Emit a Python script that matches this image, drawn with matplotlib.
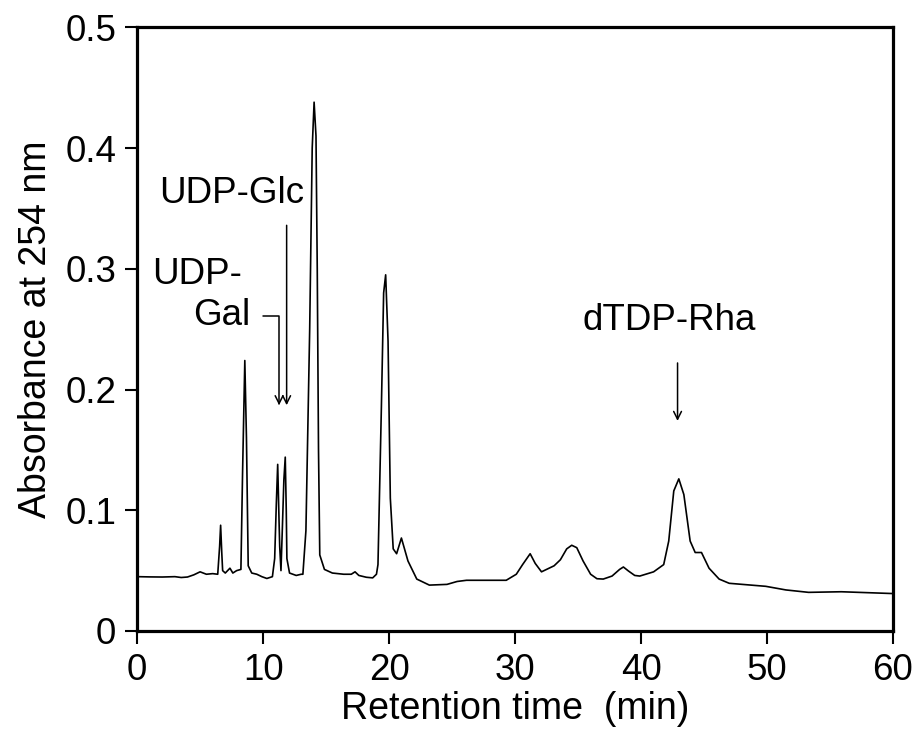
import matplotlib
matplotlib.use("Agg")
import matplotlib.pyplot as plt

plt.rcParams['font.family'] = ['Liberation Sans', 'DejaVu Sans']

# Cromatograma (tiempo en min, absorbancia)
tiempo = [0, 1, 2, 3, 3.5, 4, 4.5, 5.0, 5.5, 6.0, 6.4, 6.55, 6.63, 6.72, 6.79,
          7.0, 7.37, 7.6, 7.9, 8.24, 8.37, 8.55, 8.68, 8.82, 9.1, 9.5, 9.9,
          10.3, 10.74, 10.92, 11.05, 11.16, 11.27, 11.32, 11.42, 11.53, 11.65,
          11.76, 11.84, 11.89, 12.1, 12.63, 13.03, 13.16, 13.4, 13.7, 13.9,
          14.05, 14.2, 14.3, 14.4, 14.5, 14.87, 15.5, 16.4, 17.0, 17.3, 17.6,
          18.2, 18.7, 19.0, 19.12, 19.39, 19.57, 19.73, 19.92, 20.1, 20.33,
          20.6, 20.98, 21.5, 22.2, 23.2, 24.6, 25.4, 26.15, 29.3, 30.1, 30.6,
          31.2, 31.6, 32.1, 33.1, 33.6, 34.1, 34.5, 34.9, 35.4, 36.0, 36.5,
          37.0, 37.7, 38.3, 38.6, 39.0, 39.5, 39.9, 41.0, 41.8, 42.2, 42.6,
          43.0, 43.4, 43.9, 44.3, 44.8, 45.4, 46.2, 47.0, 49.9, 51.5, 53.3,
          55.9, 60.0]
absorbancia = [0.045, 0.0448, 0.0447, 0.045, 0.0443, 0.0447, 0.0465, 0.049,
               0.047, 0.0475, 0.047, 0.07, 0.0876, 0.065, 0.050, 0.048, 0.052,
               0.048, 0.050, 0.051, 0.130, 0.224, 0.160, 0.054, 0.048, 0.047,
               0.045, 0.0435, 0.045, 0.060, 0.105, 0.138, 0.090, 0.070, 0.050,
               0.085, 0.125, 0.144, 0.100, 0.060, 0.048, 0.046, 0.047, 0.047,
               0.083, 0.25, 0.40, 0.438, 0.41, 0.30, 0.15, 0.063, 0.051, 0.048,
               0.047, 0.047, 0.049, 0.046, 0.0445, 0.044, 0.047, 0.055, 0.185,
               0.28, 0.295, 0.240, 0.110, 0.068, 0.064, 0.077, 0.058, 0.043,
               0.038, 0.0386, 0.041, 0.042, 0.042, 0.047, 0.055, 0.064, 0.056,
               0.049, 0.054, 0.059, 0.068, 0.071, 0.069, 0.058, 0.047, 0.0433,
               0.043, 0.0455, 0.051, 0.053, 0.0497, 0.046, 0.0455, 0.049, 0.055,
               0.0745, 0.116, 0.126, 0.113, 0.0745, 0.065, 0.065, 0.052, 0.043,
               0.0395, 0.037, 0.034, 0.032, 0.0325, 0.031]

xticks = [0, 10, 20, 30, 40, 50, 60]
yticks = [0, 0.1, 0.2, 0.3, 0.4, 0.5]
yticklabels = ['0', '0.1', '0.2', '0.3', '0.4', '0.5']

fig, ax = plt.subplots(figsize=(9.14, 7.38), dpi=100)
fig.subplots_adjust(left=0.15, right=0.977, bottom=0.145, top=0.963)

ax.plot(tiempo, absorbancia, color='black', lw=1.2)

ax.set_xlim(0, 60)
ax.set_ylim(0, 0.5)
ax.set_xticks(xticks)
ax.set_yticks(yticks)
ax.set_yticklabels(yticklabels)
for s in ax.spines.values():
    s.set_linewidth(2.3)
ax.tick_params(direction='out', length=9, width=1.5, labelsize=26.5)
ax.tick_params(axis='x', pad=7)
ax.tick_params(axis='y', pad=6)
ax.set_xlabel('Retention time  (min)', fontsize=27, labelpad=2)
ax.set_ylabel('Absorbance at 254 nm', fontsize=27, labelpad=8)

# Etiquetas de picos
flecha = dict(arrowstyle='->', lw=1.1, color='black', shrinkA=0, shrinkB=0,
              mutation_scale=14)
ax.text(7.5, 0.362, 'UDP-Glc', fontsize=26.5, ha='center', va='center')
ax.annotate('', xy=(11.87, 0.187), xytext=(11.87, 0.336), arrowprops=flecha)

ax.text(1.16, 0.295, 'UDP-', fontsize=26.5, ha='left', va='center')
ax.text(8.97, 0.261, 'Gal', fontsize=26.5, ha='right', va='center')
ax.annotate('', xy=(11.27, 0.187), xytext=(10.03, 0.261),
            arrowprops=dict(flecha, connectionstyle='angle,angleA=0,angleB=90,rad=0'))

ax.text(42.2, 0.257, 'dTDP-Rha', fontsize=26.5, ha='center', va='center')
ax.annotate('', xy=(42.9, 0.174), xytext=(42.9, 0.222), arrowprops=flecha)

plt.savefig('out.png', dpi=100)
